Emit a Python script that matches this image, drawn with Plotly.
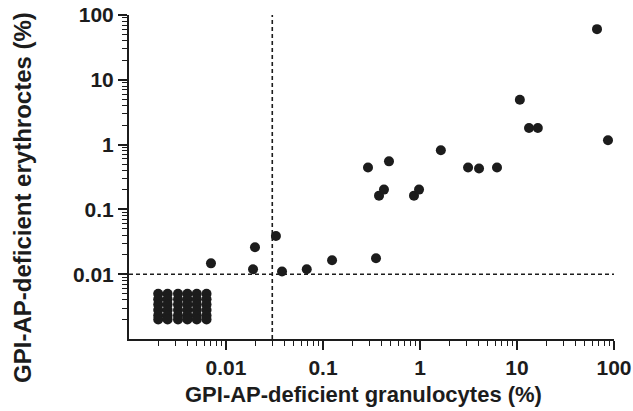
import plotly.graph_objects as go

# Patients with measurable GPI-AP-deficient populations
gran_pct = [0.0070, 0.019, 0.0199, 0.0327, 0.0378, 0.068, 0.124, 0.291, 0.352, 0.378,
            0.425, 0.479, 0.867, 0.977, 1.64, 3.13, 4.06, 6.22, 10.7, 13.3, 16.4, 66.8, 86.7]
ery_pct = [0.0147, 0.0119, 0.026, 0.0388, 0.011, 0.0119, 0.0164, 0.444, 0.0176, 0.163,
           0.202, 0.551, 0.163, 0.202, 0.818, 0.444, 0.428, 0.444, 4.92, 1.80, 1.80, 60.5, 1.17]

# Undetectable samples shown as a block of dots (columns x rows)
undet_x = [0.0020, 0.0025, 0.0032, 0.0040, 0.0050, 0.0063]
undet_y = [0.0050, 0.0041, 0.0034, 0.0028, 0.0023, 0.0020]

# Thresholds (dashed lines)
gran_cutoff = 0.03
ery_cutoff = 0.01

tick_vals = [0.01, 0.1, 1, 10, 100]
tick_text = ["0.01", "0.1", "1", "10", "100"]
axis_min, axis_max = 0.001, 100

x_title = "GPI-AP-deficient granulocytes (%)"
y_title = "GPI-AP-deficient erythroctes (%)"

grid_x = [x for x in undet_x for _ in undet_y]
grid_y = [y for _ in undet_x for y in undet_y]

minor_vals = [m * 10 ** e for e in range(-3, 2) for m in range(2, 10)]

ink = "#1c1c1c"
font_family = "Liberation Sans, Arial"
dot = dict(color=ink, size=10, line=dict(width=0))
dash_line = dict(color=ink, width=1.6, dash="4px,3px")

fig = go.Figure()
fig.add_trace(go.Scatter(x=[axis_min, axis_max], y=[ery_cutoff, ery_cutoff], mode="lines",
                         line=dash_line, hoverinfo="skip", showlegend=False))
fig.add_trace(go.Scatter(x=[gran_cutoff, gran_cutoff], y=[axis_min, axis_max], mode="lines",
                         line=dash_line, hoverinfo="skip", showlegend=False))
fig.add_trace(go.Scatter(x=grid_x, y=grid_y, mode="markers", marker=dot, showlegend=False))
fig.add_trace(go.Scatter(x=gran_pct, y=ery_pct, mode="markers", marker=dot, showlegend=False,
                         cliponaxis=False))

axis_common = dict(
    type="log",
    range=[-3, 2],
    automargin=False,
    showgrid=False,
    zeroline=False,
    showline=True,
    linecolor=ink,
    linewidth=2,
    ticks="outside",
    ticklen=9,
    tickwidth=1.6,
    tickcolor=ink,
    tickvals=tick_vals,
    ticktext=tick_text,
    tickfont=dict(family=font_family, size=21, color=ink, weight="bold"),
    minor=dict(ticks="outside", ticklen=5, tickwidth=1.2, tickcolor=ink,
               tickvals=minor_vals, showgrid=False),
)

fig.update_layout(
    width=633,
    height=411,
    margin=dict(l=129, r=19, t=15, b=72),
    paper_bgcolor="white",
    plot_bgcolor="white",
    xaxis=axis_common,
    yaxis=axis_common,
    annotations=[
        dict(text=x_title, xref="paper", yref="paper", x=0.4835, y=-0.17,
             xanchor="center", yanchor="middle", showarrow=False,
             font=dict(family=font_family, size=22, color=ink, weight="bold")),
        dict(text=y_title, xref="paper", yref="paper", x=-0.221, y=0.438,
             xanchor="center", yanchor="middle", showarrow=False, textangle=-90,
             font=dict(family=font_family, size=24, color=ink, weight="bold")),
    ],
)

fig.write_html("out.html")
